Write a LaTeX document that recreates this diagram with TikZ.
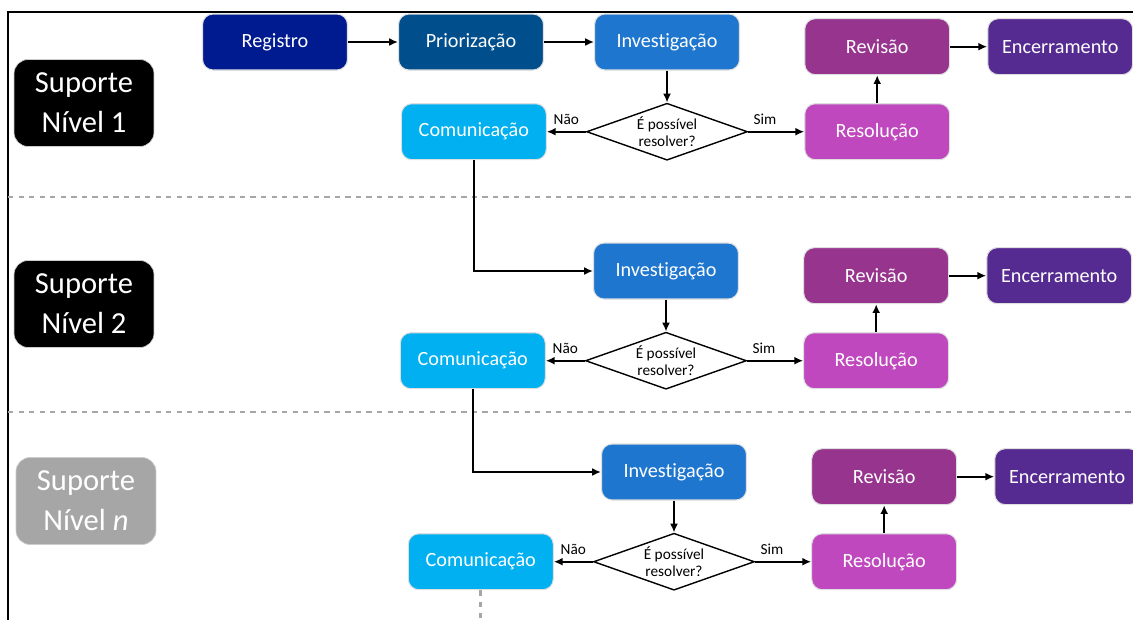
\documentclass[tikz,border=0pt]{standalone}
\usepackage{fontspec}
\setmainfont{Carlito}[Ligatures=NoCommon]
\usetikzlibrary{positioning,arrows.meta,shapes.geometric}
\definecolor{registro}{RGB}{0,27,143}
\definecolor{priorizacao}{RGB}{0,78,140}
\definecolor{investigacao}{RGB}{30,118,206}
\definecolor{comunicacao}{RGB}{0,176,240}
\definecolor{revisao}{RGB}{150,52,142}
\definecolor{encerramento}{RGB}{86,43,145}
\definecolor{resolucao}{RGB}{192,72,190}
\definecolor{nivelcinza}{RGB}{166,166,166}
\tikzset{
     etapa/.style={rectangle, rounded corners=6pt, draw=gray!25, line width=0.6pt,
                   text=white, minimum width=2.9cm, minimum height=1.12cm,
                   font=\fontsize{11.5}{13}\selectfont},
     decisao/.style={diamond, draw, line width=0.8pt, aspect=2.8, inner sep=0pt,
                   minimum width=3.22cm, minimum height=1.14cm, align=center,
                   font=\fontsize{8.7}{10}\selectfont},
     nivel/.style={rectangle, rounded corners=8pt, draw=gray!40, fill=black, text=white,
                   minimum width=2.8cm, minimum height=1.74cm, align=center,
                   font=\fontsize{17.4}{22.7}\selectfont},
     rotulo/.style={above, font=\fontsize{8.7}{10}\selectfont},
     seta/.style={-{Latex[length=5pt,width=4.5pt]}, line width=1.1pt},
     separador/.style={gray!70, dashed, line width=0.7pt}
     }

\begin{document}
\begin{tikzpicture}[x=0.02cm, y=-0.02cm]
    \useasboundingbox (0,0) rectangle (1133,620);
    \draw [line width=1.1pt] (8,620) -- (8,12) -- (1133,12);
    \draw [separador] (8,197) -- (1133,197);
    \draw [separador] (8,412) -- (1133,412);

    % nivel 1
    \node [nivel] (sup1) at (84,103) {Suporte\\Nível 1};
    \node [etapa, fill=registro] (reg) at (275,42) {Registro};
    \node [etapa, fill=priorizacao, right=1cm of reg] (prio) {Priorização};
    \node [etapa, fill=investigacao, right=1cm of prio] (inv1) {Investigação};
    \node [decisao, below=0.64cm of inv1.south] (dia1) {É possível\\resolver?};
    \node [etapa, fill=comunicacao, left=0.78cm of dia1] (com1) {Comunicação};
    \node [etapa, fill=resolucao, right=1.12cm of dia1] (res1) {Resolução};
    \node [etapa, fill=revisao, above=0.56cm of res1] (rev1) {Revisão};
    \node [etapa, fill=encerramento, right=0.74cm of rev1] (enc1) {Encerramento};

    % nivel 2
    \node [nivel] (sup2) at (84,304) {Suporte\\Nível 2};
    \node [etapa, fill=investigacao] (inv2) at (666,271) {Investigação};
    \node [decisao, below=0.64cm of inv2.south] (dia2) {É possível\\resolver?};
    \node [etapa, fill=comunicacao, left=0.78cm of dia2] (com2) {Comunicação};
    \node [etapa, fill=resolucao, right=1.12cm of dia2] (res2) {Resolução};
    \node [etapa, fill=revisao, above=0.56cm of res2] (rev2) {Revisão};
    \node [etapa, fill=encerramento, right=0.74cm of rev2] (enc2) {Encerramento};

    % nivel n
    \node [nivel, fill=nivelcinza] (sup3) at (86,501) {Suporte\\Nível \textit{n}};
    \node [etapa, fill=investigacao] (inv3) at (674,472) {Investigação};
    \node [decisao, below=0.64cm of inv3.south] (dia3) {É possível\\resolver?};
    \node [etapa, fill=comunicacao, left=0.78cm of dia3] (com3) {Comunicação};
    \node [etapa, fill=resolucao, right=1.12cm of dia3] (res3) {Resolução};
    \node [etapa, fill=revisao, above=0.56cm of res3] (rev3) {Revisão};
    \node [etapa, fill=encerramento, right=0.74cm of rev3] (enc3) {Encerramento};
    \coordinate (cont) at (com3.south |- 0,620);

    \draw [seta] (reg) -- (prio);
    \draw [seta] (prio) -- (inv1);
    \draw [seta] (inv1) -- (dia1);
    \draw [seta] (dia1) -- node [rotulo] {Não} (com1);
    \draw [seta] (dia1) -- node [rotulo, pos=0.3] {Sim} (res1);
    \draw [seta] (res1) -- (rev1);
    \draw [seta] (rev1) -- (enc1);
    \draw [seta] (com1) |- (inv2);

    \draw [seta] (inv2) -- (dia2);
    \draw [seta] (dia2) -- node [rotulo] {Não} (com2);
    \draw [seta] (dia2) -- node [rotulo, pos=0.3] {Sim} (res2);
    \draw [seta] (res2) -- (rev2);
    \draw [seta] (rev2) -- (enc2);
    \draw [seta] (com2) |- (inv3);

    \draw [seta] (inv3) -- (dia3);
    \draw [seta] (dia3) -- node [rotulo] {Não} (com3);
    \draw [seta] (dia3) -- node [rotulo, pos=0.3] {Sim} (res3);
    \draw [seta] (res3) -- (rev3);
    \draw [seta] (rev3) -- (enc3);
    \draw [gray!70, line width=1.7pt, dash pattern=on 3pt off 3.5pt] (com3) -- (cont);
\end{tikzpicture}
\end{document}
